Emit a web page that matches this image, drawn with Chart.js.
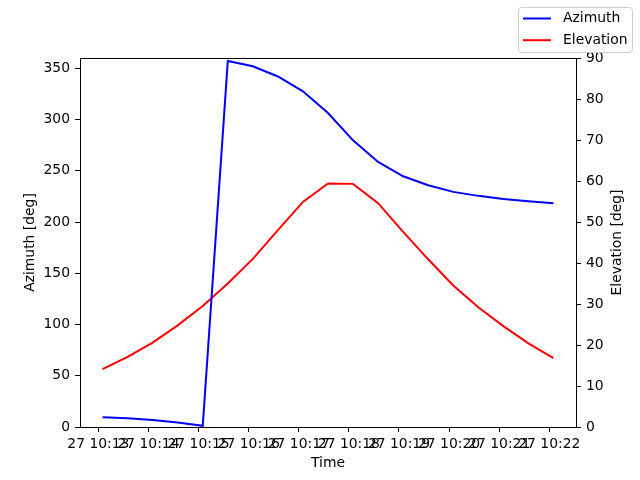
<!DOCTYPE html>
<html>
<head>
<meta charset="utf-8">
<script src="https://cdn.jsdelivr.net/npm/chart.js@4.4.1/dist/chart.umd.min.js"></script>
<style>
  html, body { margin: 0; padding: 0; background: #fff; }
  canvas { display: block; }
</style>
</head>
<body>
<canvas id="chart" width="640" height="480"></canvas>
<script>
// Pass data (day 27)
const dayLabel = '27';
const times = ['10:13:05', '10:13:35', '10:14:05', '10:14:35', '10:15:05', '10:15:35', '10:16:05',
  '10:16:35', '10:17:05', '10:17:35', '10:18:05', '10:18:35', '10:19:05', '10:19:35',
  '10:20:05', '10:20:35', '10:21:05', '10:21:35', '10:22:05'];
const azimuth = [9.6, 8.5, 6.9, 4.5, 1.2, 357.0, 352.0, 342.0, 327.5, 306.3, 279.7, 258.6,
  244.6, 235.9, 229.4, 225.5, 222.5, 220.3, 218.3];
const elevation = [14.1, 17.1, 20.6, 24.8, 29.5, 35.0, 41.0, 48.0, 54.9, 59.4, 59.3, 54.6,
  47.6, 40.9, 34.5, 29.2, 24.6, 20.4, 16.8];
const timeTicks = ['10:13', '10:14', '10:15', '10:16', '10:17', '10:18', '10:19', '10:20', '10:21', '10:22'];
const azTicks = [0, 50, 100, 150, 200, 250, 300, 350];
const elTicks = [0, 10, 20, 30, 40, 50, 60, 70, 80, 90];

const FONT = { family: 'DejaVu Sans', size: 13.9 };

function toSec(s) {
  const p = s.split(':').map(Number);
  return p[0] * 3600 + p[1] * 60 + (p[2] || 0);
}
function fmtTime(v) {
  const h = Math.floor(v / 3600);
  const m = Math.round((v - h * 3600) / 60);
  return dayLabel + ' ' + String(h).padStart(2, '0') + ':' + String(m).padStart(2, '0');
}

const xs = times.map(toSec);
const span = xs[xs.length - 1] - xs[0];

// matplotlib-ish frame, right axis title and legend
const decor = {
  id: 'decor',
  afterDraw(chart) {
    const { ctx, chartArea: a } = chart;
    ctx.save();
    ctx.strokeStyle = '#000';
    ctx.lineWidth = 1;
    ctx.strokeRect(a.left + 0.5, a.top + 0.5, a.right - a.left, a.bottom - a.top);

    ctx.font = FONT.size + 'px ' + FONT.family;
    ctx.fillStyle = '#000';
    ctx.textAlign = 'center';
    ctx.textBaseline = 'middle';
    ctx.translate(617, (a.top + a.bottom) / 2);
    ctx.rotate(-Math.PI / 2);
    ctx.fillText('Elevation [deg]', 0, 0);
    ctx.restore();

    // legend
    ctx.save();
    const bx = 518.5, by = 7.5, bw = 114, bh = 45, r = 3;
    ctx.beginPath();
    ctx.roundRect(bx, by, bw, bh, r);
    ctx.fillStyle = 'rgba(255,255,255,0.8)';
    ctx.fill();
    ctx.strokeStyle = '#cccccc';
    ctx.lineWidth = 1;
    ctx.stroke();
    ctx.font = FONT.size + 'px ' + FONT.family;
    ctx.textBaseline = 'middle';
    ctx.textAlign = 'left';
    chart.data.datasets.forEach((ds, i) => {
      const y = 18.5 + i * 21.7;
      ctx.strokeStyle = ds.borderColor;
      ctx.lineWidth = 2;
      ctx.beginPath();
      ctx.moveTo(523, y);
      ctx.lineTo(551, y);
      ctx.stroke();
      ctx.fillStyle = '#000';
      ctx.fillText(ds.label, 563, y);
    });
    ctx.restore();
  }
};

new Chart(document.getElementById('chart'), {
  type: 'line',
  data: {
    datasets: [
      {
        label: 'Azimuth',
        data: xs.map((x, i) => ({ x: x, y: azimuth[i] })),
        borderColor: '#0000ff',
        borderWidth: 2,
        pointRadius: 0,
        tension: 0,
        yAxisID: 'y'
      },
      {
        label: 'Elevation',
        data: xs.map((x, i) => ({ x: x, y: elevation[i] })),
        borderColor: '#ff0000',
        borderWidth: 2,
        pointRadius: 0,
        tension: 0,
        yAxisID: 'y1'
      }
    ]
  },
  options: {
    responsive: false,
    animation: false,
    devicePixelRatio: 1,
    layout: { padding: { top: 58, left: 0, right: 0, bottom: 0 } },
    plugins: { legend: { display: false }, tooltip: { enabled: false } },
    scales: {
      x: {
        type: 'linear',
        bounds: 'data',
        min: xs[0] - 0.05 * span,
        max: xs[xs.length - 1] + 0.05 * span,
        afterBuildTicks: s => { s.ticks = timeTicks.map(t => ({ value: toSec(t) })); },
        afterFit: s => { s.height = 53; },
        ticks: {
          autoSkip: false, maxRotation: 0, minRotation: 0, padding: 4.5,
          color: '#000', font: FONT,
          callback: v => fmtTime(v)
        },
        grid: { drawOnChartArea: false, tickLength: 5, tickColor: '#000', color: '#000' },
        border: { display: false },
        title: { display: true, text: 'Time', color: '#000', font: FONT, padding: { top: 0, bottom: 8 } }
      },
      y: {
        position: 'left',
        bounds: 'data',
        min: 0,
        max: 360,
        afterBuildTicks: s => { s.ticks = azTicks.map(v => ({ value: v })); },
        afterFit: s => { s.width = 80; },
        ticks: { padding: 5, color: '#000', font: FONT },
        grid: { drawOnChartArea: false, tickLength: 5, tickColor: '#000', color: '#000' },
        border: { display: false },
        title: { display: true, text: 'Azimuth [deg]', color: '#000', font: FONT, padding: { top: 22.5, bottom: 0 } }
      },
      y1: {
        position: 'right',
        bounds: 'data',
        min: 0,
        max: 90,
        afterBuildTicks: s => { s.ticks = elTicks.map(v => ({ value: v })); },
        afterFit: s => { s.width = 64; },
        ticks: { padding: 5, color: '#000', font: FONT },
        grid: { drawOnChartArea: false, tickLength: 5, tickColor: '#000', color: '#000' },
        border: { display: false }
      }
    }
  },
  plugins: [decor]
});
</script>
</body>
</html>
